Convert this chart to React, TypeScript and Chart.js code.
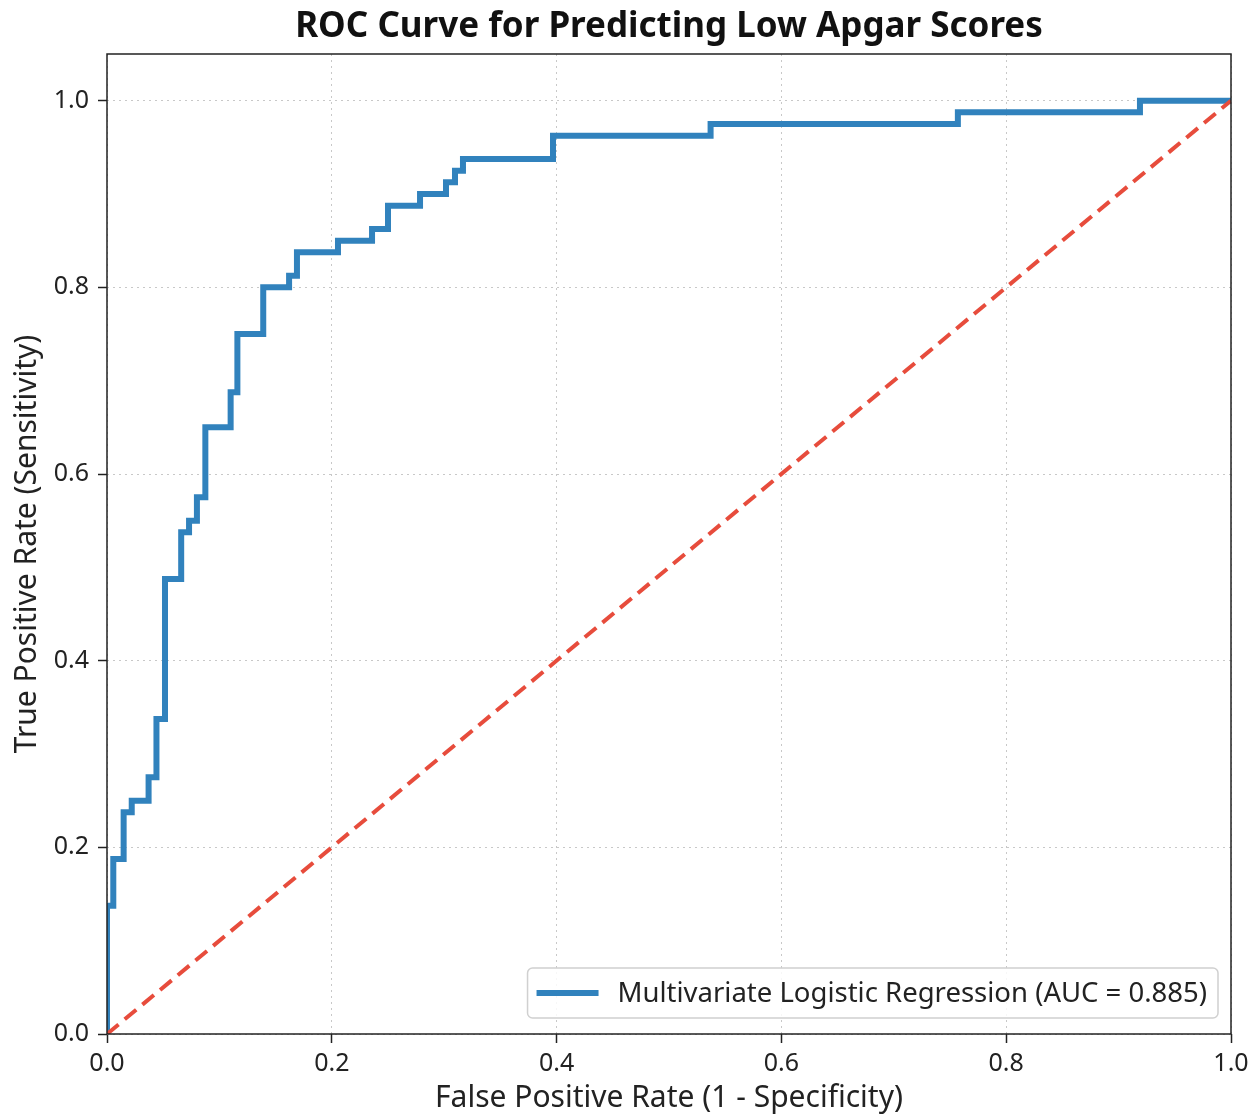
import React, { useEffect, useRef } from "react";
import { Chart, registerables } from "chart.js";

Chart.register(...registerables);

const FONT = "'Noto Sans', 'Open Sans', sans-serif";

const chartTitle = "ROC Curve for Predicting Low Apgar Scores";
const xAxisTitle = "False Positive Rate (1 - Specificity)";
const yAxisTitle = "True Positive Rate (Sensitivity)";
const rocLabel = "Multivariate Logistic Regression (AUC = 0.885)";

// ROC curve points (top of each vertical step)
const fpr = [
  0, 0, 0.0056, 0.0148, 0.022, 0.037, 0.044, 0.0516, 0.066, 0.073, 0.080,
  0.0875, 0.110, 0.116, 0.139, 0.162, 0.169, 0.2055, 0.2358, 0.25, 0.2785,
  0.3016, 0.3096, 0.3167, 0.3968, 0.537, 0.757, 0.919, 1.0,
];
const tpr = [
  0, 0.1375, 0.1875, 0.2375, 0.25, 0.275, 0.3375, 0.4875, 0.5375, 0.55, 0.575,
  0.65, 0.6875, 0.75, 0.8, 0.8125, 0.8375, 0.85, 0.8625, 0.8875, 0.9, 0.9125,
  0.925, 0.9375, 0.9625, 0.975, 0.9875, 1.0, 1.0,
];

const chanceX = [0, 1];
const chanceY = [0, 1];

const xTicks = [0, 0.2, 0.4, 0.6, 0.8, 1.0];
const yTicks = [0, 0.2, 0.4, 0.6, 0.8, 1.0];

const BLUE = "#3182bd";
const RED = "#e74c3c";

const framePlugin = {
  id: "frameAndTitle",
  afterDatasetsDraw(chart: any) {
    const { ctx, chartArea: a } = chart;
    ctx.save();
    ctx.strokeStyle = "#222";
    ctx.lineWidth = 1.5;
    ctx.setLineDash([]);
    ctx.strokeRect(a.left, a.top, a.right - a.left, a.bottom - a.top);
    ctx.restore();
  },
  afterDraw(chart: any) {
    const { ctx, chartArea: a } = chart;
    ctx.save();
    // title
    ctx.fillStyle = "#111";
    ctx.font = `bold 35px ${FONT}`;
    ctx.textAlign = "center";
    ctx.textBaseline = "middle";
    ctx.fillText(chartTitle, (a.left + a.right) / 2, 27);

    // legend
    const ds = chart.data.datasets[0];
    ctx.font = `27.5px ${FONT}`;
    const tw = ctx.measureText(ds.label).width;
    const padL = 9, lineLen = 62, gap = 19, padR = 11, h = 50;
    const w = padL + lineLen + gap + tw + padR;
    const right = a.right - 13;
    const bottom = a.bottom - 16;
    const left = right - w;
    const top = bottom - h;
    ctx.beginPath();
    ctx.roundRect(left, top, w, h, 5);
    ctx.fillStyle = "rgba(255,255,255,0.85)";
    ctx.fill();
    ctx.strokeStyle = "#d0d0d0";
    ctx.lineWidth = 1.5;
    ctx.stroke();
    const cy = top + h / 2;
    ctx.beginPath();
    ctx.moveTo(left + padL, cy);
    ctx.lineTo(left + padL + lineLen, cy);
    ctx.strokeStyle = ds.borderColor;
    ctx.lineWidth = 6;
    ctx.stroke();
    ctx.fillStyle = "#222";
    ctx.textAlign = "left";
    ctx.textBaseline = "middle";
    ctx.fillText(ds.label, left + padL + lineLen + gap, cy + 1);
    ctx.restore();
  },
};

export default function App() {
  const ref = useRef<HTMLCanvasElement>(null);

  useEffect(() => {
    if (!ref.current) return;
    const chart = new Chart(ref.current, {
      type: "line",
      data: {
        datasets: [
          {
            label: rocLabel,
            data: fpr.map((x, i) => ({ x, y: tpr[i] })),
            borderColor: BLUE,
            backgroundColor: BLUE,
            borderWidth: 6,
            pointRadius: 0,
            stepped: "before",
            fill: false,
            clip: 0,
            order: 1,
            borderJoinStyle: "miter",
          } as any,
          {
            label: "Chance",
            data: chanceX.map((x, i) => ({ x, y: chanceY[i] })),
            borderColor: RED,
            borderWidth: 4,
            borderDash: [15, 8],
            pointRadius: 0,
            fill: false,
            clip: 0,
            order: 0,
          } as any,
        ],
      },
      options: {
        animation: false,
        responsive: false,
        maintainAspectRatio: false,
        layout: { padding: { left: 0, right: 29, top: 54, bottom: 0 } },
        plugins: {
          legend: { display: false },
          title: { display: false },
          tooltip: { enabled: false },
        },
        scales: {
          x: {
            type: "linear",
            min: 0,
            max: 1,
            afterFit: (s: any) => { s.height = 83; },
            afterBuildTicks: (s: any) => { s.ticks = xTicks.map((v) => ({ value: v })); },
            ticks: {
              font: { family: FONT, size: 25 },
              color: "#222",
              padding: 6,
              maxRotation: 0,
              callback: (v: any) => Number(v).toFixed(1),
            },
            grid: {
              color: "#c8c8c8",
              lineWidth: 1,
              tickLength: 9,
              tickColor: "#222",
              tickWidth: 1.5,
            },
            border: { display: false, dash: [2, 4] },
            title: {
              display: true,
              text: xAxisTitle,
              font: { family: FONT, size: 30 },
              color: "#222",
              padding: { top: 0, bottom: 1 },
            },
          },
          y: {
            type: "linear",
            min: 0,
            max: 1.05,
            afterFit: (s: any) => { s.width = 107; },
            afterBuildTicks: (s: any) => { s.ticks = yTicks.map((v) => ({ value: v })); },
            ticks: {
              font: { family: FONT, size: 25 },
              color: "#222",
              padding: 9,
              callback: (v: any) => Number(v).toFixed(1),
            },
            grid: {
              color: "#c8c8c8",
              lineWidth: 1,
              tickLength: 9,
              tickColor: "#222",
              tickWidth: 1.5,
            },
            border: { display: false, dash: [2, 4] },
            title: {
              display: true,
              text: yAxisTitle,
              font: { family: FONT, size: 30 },
              color: "#222",
              padding: { top: 9, bottom: 0 },
            },
          },
        },
      },
      plugins: [framePlugin],
    } as any);
    return () => chart.destroy();
  }, []);

  return (
    <div style={{ position: "absolute", left: 0, top: 0, width: 1260, height: 1117, background: "#fff" }}>
      <canvas ref={ref} width={1260} height={1117} style={{ display: "block" }} />
    </div>
  );
}
